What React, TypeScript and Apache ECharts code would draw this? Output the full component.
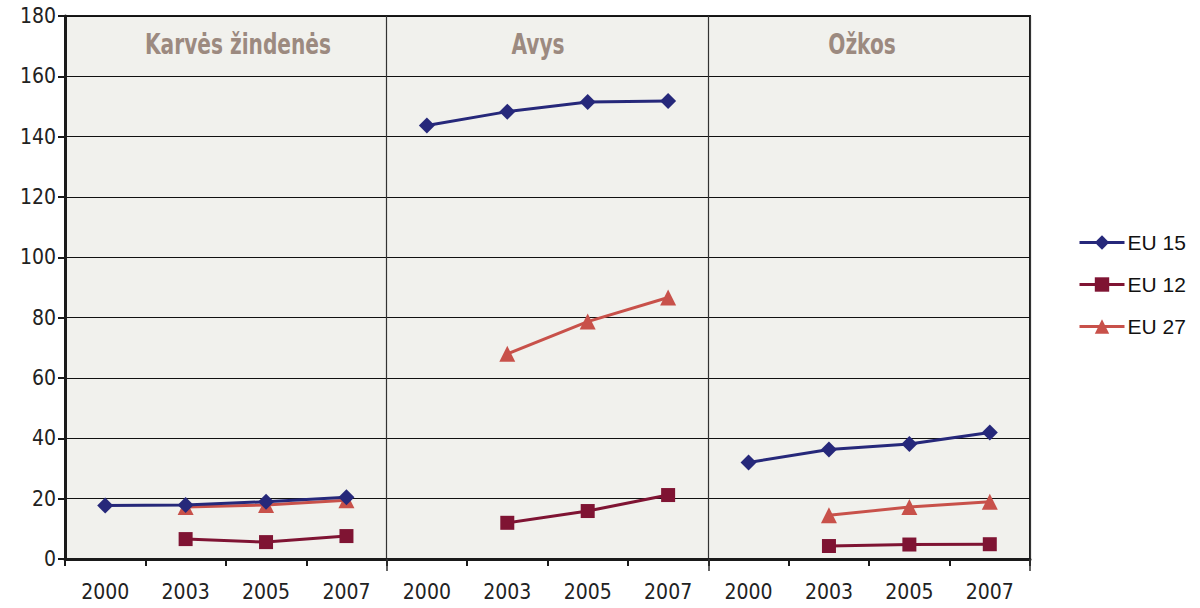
import React, { useEffect, useRef } from "react";
import * as echarts from "echarts";

const categories = ["2000", "2003", "2005", "2007", "2000", "2003", "2005", "2007", "2000", "2003", "2005", "2007"];
const panelTitles = ["Karvės žindenės", "Avys", "Ožkos"];
const seriesNames = ["EU 15", "EU 12", "EU 27"];
const eu15 = [17.7, 17.9, 19.0, 20.5, 143.7, 148.3, 151.5, 151.8, 32.0, 36.3, 38.1, 41.9];
const eu12 = [null, 6.6, 5.6, 7.6, null, 12.0, 15.9, 21.2, null, 4.3, 4.8, 4.9];
const eu27 = [null, 17.2, 17.9, 19.5, null, 68.0, 78.7, 86.7, null, 14.5, 17.2, 19.0];
const yTicks = { min: 0, max: 180, interval: 20 };

const FONT_C = "'Liberation Sans Narrow', 'DejaVu Sans Condensed', 'Arial Narrow', sans-serif";

const seriesStyles = [
  { color: "#26287a", symbol: "diamond", size: 16, z: 4 },
  { color: "#7f1433", symbol: "rect", size: 14, z: 3 },
  { color: "#c8514a", symbol: "triangle", size: 16, z: 3 },
];

export default function App() {
  const ref = useRef<HTMLDivElement>(null);
  useEffect(() => {
    if (!ref.current) return;
    const chart = echarts.init(ref.current, undefined, { renderer: "svg" });
    const titleCenters = [238, 538, 862];
    const all = [eu15, eu12, eu27];
    const series: any[] = [];
    all.forEach((vals, si) => {
      const st = seriesStyles[si];
      for (let p = 0; p < 3; p++) {
        const data = vals.map((v, i) => (Math.floor(i / 4) === p ? v : null));
        series.push({
          name: seriesNames[si],
          type: "line",
          data,
          color: st.color,
          symbol: st.symbol,
          symbolSize: st.size,
          lineStyle: { width: 3, color: st.color },
          itemStyle: { color: st.color },
          connectNulls: false,
          z: st.z,
        });
      }
    });
    chart.setOption({
      animation: false,
      backgroundColor: "#ffffff",
      grid: {
        left: 65,
        right: 170,
        top: 16,
        bottom: 49,
        show: true,
        backgroundColor: "#f1f1ed",
        borderColor: "#1a1a1a",
        borderWidth: 2,
      },
      graphic: panelTitles.map((t, i) => ({
        type: "text",
        x: titleCenters[i],
        y: 44,
        scaleX: 0.8,
        style: {
          text: t,
          fill: "#9c8a80",
          font: `bold 28px ${FONT_C}`,
          textAlign: "center",
          textVerticalAlign: "middle",
        },
        z: 10,
      })),
      legend: {
        orient: "vertical",
        left: 1073,
        top: 227,
        itemWidth: 45,
        itemHeight: 18,
        itemGap: 21,
        data: seriesNames,
        lineStyle: { width: 3 },
        textStyle: { fontFamily: "'Liberation Sans', Arial, sans-serif", fontSize: 21, color: "#111", padding: [0, 0, 0, -2] },
      },
      xAxis: [
        {
          type: "category",
          data: categories,
          boundaryGap: true,
          axisLine: { lineStyle: { color: "#1a1a1a", width: 3 } },
          axisTick: { show: true, interval: 0, length: 7, lineStyle: { color: "#1a1a1a", width: 2 } },
          axisLabel: {
            interval: 0,
            margin: 22,
            fontFamily: FONT_C,
            fontSize: 21,
            color: "#222",
          },
          splitLine: { show: false },
        },
        {
          type: "category",
          data: categories,
          boundaryGap: true,
          position: "bottom",
          axisLine: { show: false },
          axisLabel: { show: false },
          axisTick: {
            show: true,
            length: 12,
            interval: (i: number) => i === 4 || i === 8,
            lineStyle: { color: "#333", width: 1.5 },
          },
          splitLine: {
            show: true,
            interval: (i: number) => i === 4 || i === 8,
            lineStyle: { color: "#333", width: 1.2 },
          },
        },
      ],
      yAxis: {
        type: "value",
        min: yTicks.min,
        max: yTicks.max,
        interval: yTicks.interval,
        axisLine: { show: true, lineStyle: { color: "#1a1a1a", width: 3 } },
        axisTick: { show: true, length: 7, lineStyle: { color: "#1a1a1a", width: 2 } },
        axisLabel: { margin: 9, fontFamily: FONT_C, fontSize: 21, color: "#222" },
        splitLine: { show: true, lineStyle: { color: "#111", width: 1 } },
      },
      series,
    });
    return () => chart.dispose();
  }, []);
  return <div ref={ref} style={{ width: 1200, height: 608, position: "absolute", left: 0, top: 0 }} />;
}
